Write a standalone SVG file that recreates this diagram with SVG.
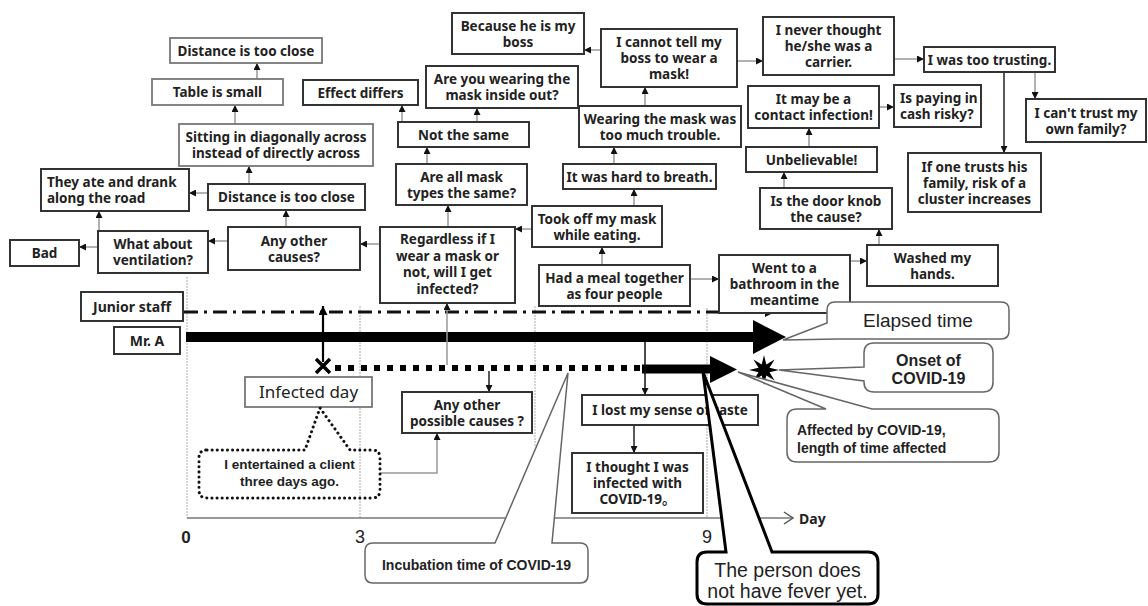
<svg xmlns="http://www.w3.org/2000/svg" width="1148" height="606" viewBox="0 0 1148 606">
<defs>
<marker id="ah" viewBox="0 0 8 8" refX="8" refY="4" markerWidth="7" markerHeight="7" markerUnits="userSpaceOnUse" orient="auto"><path d="M0,0L8,4L0,8Z" fill="#111"/></marker>
<marker id="ahb" viewBox="0 0 8 8" refX="8" refY="4" markerWidth="9" markerHeight="9" markerUnits="userSpaceOnUse" orient="auto"><path d="M0,0L8,4L0,8Z" fill="#000"/></marker>
</defs>
<style>
.box rect{fill:#fff;stroke:#333;stroke-width:2}
.gbox rect{fill:#fff;stroke:#777;stroke-width:1.8}
.t{font-family:"Noto Sans","Noto Sans CJK JP",sans-serif;font-weight:bold;font-size:13.5px;fill:#222;text-anchor:middle}
.tl{text-anchor:start}
.c{stroke:#999;stroke-width:1.5;fill:none;marker-end:url(#ah)}
.cb{stroke:#222;stroke-width:1.5;fill:none;marker-end:url(#ah)}
.grid{stroke:#aaa;stroke-width:1;stroke-dasharray:2 1;fill:none}
.call{fill:#fff;stroke:#666;stroke-width:1.5}
.a{font-family:"Liberation Sans",Arial,sans-serif;fill:#222}
</style>
<rect width="1148" height="606" fill="#fff"/>

<g id="grid">
<line class="grid" x1="187" y1="277" x2="187" y2="518"/>
<line class="grid" x1="360" y1="306" x2="360" y2="518"/>
<line class="grid" x1="535" y1="306" x2="535" y2="446"/>
<line class="grid" x1="707" y1="308" x2="707" y2="518"/>
<line x1="187" y1="518" x2="792" y2="518" stroke="#777" stroke-width="1.5"/>
<path d="M784,512L793,518L784,524" fill="none" stroke="#555" stroke-width="1.5"/>
<text class="a" x="186" y="543" font-size="17" font-weight="bold" text-anchor="middle">0</text>
<text class="a" x="360" y="543" font-size="18" text-anchor="middle">3</text>
<text class="a" x="707" y="543" font-size="18" text-anchor="middle">9</text>
<text class="t tl" x="799" y="524" style="font-size:14px">Day</text>
</g>

<g id="timeline">
<line x1="184" y1="312" x2="766" y2="312" stroke="#111" stroke-width="3" stroke-dasharray="14 6 3 6"/>
<path d="M765,307L775,312L765,317Z" fill="#111"/>
<line x1="186" y1="337" x2="756" y2="337" stroke="#000" stroke-width="10"/>
<path d="M753,320L786,337L753,354Z" fill="#000"/>
<line x1="335" y1="368" x2="642" y2="368" stroke="#000" stroke-width="6" stroke-dasharray="6 7"/>
<line x1="642" y1="369" x2="712" y2="369" stroke="#000" stroke-width="9"/>
<path d="M710,356L737,369.5L710,383Z" fill="#000"/>
<path d="M316,359L330,373M330,359L316,373" stroke="#000" stroke-width="3.5"/>
<path d="M764,355L766.3,364.5L774.6,359.4L769.5,367.7L779,370L769.5,372.3L774.6,380.6L766.3,375.5L764,385L761.7,375.5L753.4,380.6L758.5,372.3L749,370L758.5,367.7L753.4,359.4L761.7,364.5Z" fill="#000"/>
</g>

<g id="connectors">
<line class="c" x1="257" y1="79" x2="257" y2="63"/>
<line class="c" x1="235" y1="124" x2="235" y2="105"/>
<line class="c" x1="249" y1="184" x2="249" y2="166"/>
<line class="c" x1="208" y1="193" x2="189" y2="193"/>
<line class="c" x1="99" y1="231" x2="99" y2="211"/>
<line class="c" x1="98" y1="247" x2="79" y2="247"/>
<line class="c" x1="228" y1="241" x2="208" y2="241"/>
<line class="c" x1="286" y1="227" x2="286" y2="210"/>
<line class="c" x1="380" y1="244" x2="360" y2="244"/>
<line class="c" x1="448" y1="227" x2="448" y2="205"/>
<line class="c" x1="427" y1="164" x2="427" y2="147"/>
<line class="c" x1="402" y1="122" x2="402" y2="105"/>
<line class="c" x1="477" y1="122" x2="477" y2="108"/>
<line class="c" x1="532" y1="229" x2="515" y2="229"/>
<line class="c" x1="602" y1="265" x2="602" y2="247"/>
<line class="c" x1="634" y1="206" x2="634" y2="189"/>
<line class="c" x1="614" y1="164" x2="614" y2="147"/>
<line class="c" x1="645" y1="106" x2="645" y2="87"/>
<line class="c" x1="601" y1="50" x2="584" y2="50"/>
<line class="c" x1="737" y1="61" x2="763" y2="61"/>
<line class="c" x1="894" y1="59" x2="924" y2="59"/>
<line class="cb" x1="1004" y1="72" x2="1004" y2="153"/>
<line class="c" x1="1035" y1="72" x2="1035" y2="99"/>
<line class="c" x1="690" y1="279" x2="719" y2="279"/>
<line class="c" x1="850" y1="261" x2="867" y2="261"/>
<line class="c" x1="879" y1="245" x2="879" y2="229"/>
<line class="c" x1="784" y1="188" x2="784" y2="172"/>
<line class="c" x1="809" y1="147" x2="809" y2="128"/>
<line class="c" x1="879" y1="107" x2="894" y2="107"/>
<line class="c" x1="447" y1="365" x2="447" y2="303"/>
<line class="cb" x1="489" y1="371" x2="489" y2="392"/>
<path class="c" d="M380,473L437,473L437,433"/>
<line x1="645" y1="342" x2="645" y2="395" stroke="#111" stroke-width="1.5" marker-end="url(#ah)"/>
<line class="cb" x1="634" y1="425" x2="634" y2="453"/>
<line x1="323" y1="362" x2="323" y2="306" stroke="#000" stroke-width="2.2" marker-end="url(#ahb)"/>
</g>

<g id="n-distance-top" class="gbox"><rect x="170" y="38" width="152" height="25"/><text class="t" x="246" y="55.5">Distance is too close</text></g>
<g id="n-table" class="gbox"><rect x="152" y="79" width="131" height="26"/><text class="t" x="217.5" y="97">Table is small</text></g>
<g id="n-sitting" class="gbox"><rect x="179" y="124" width="194" height="42"/><text class="t" x="276"><tspan x="276" y="142">Sitting in diagonally across</tspan><tspan x="276" y="158">instead of directly across</tspan></text></g>
<g id="n-road" class="box"><rect x="41" y="169" width="148" height="42"/><text class="t tl"><tspan x="47" y="186.5">They ate and drank</tspan><tspan x="47" y="202.5">along the road</tspan></text></g>
<g id="n-distance-mid" class="box"><rect x="208" y="184" width="157" height="26"/><text class="t" x="286.5" y="202">Distance is too close</text></g>
<g id="n-bad" class="box"><rect x="10" y="240" width="69" height="26"/><text class="t" x="44.5" y="258">Bad</text></g>
<g id="n-ventilation" class="box"><rect x="98" y="231" width="110" height="42"/><text class="t"><tspan x="153" y="249">What about</tspan><tspan x="153" y="265">ventilation?</tspan></text></g>
<g id="n-any-other" class="box"><rect x="228" y="227" width="132" height="43"/><text class="t"><tspan x="294" y="245.5">Any other</tspan><tspan x="294" y="261.5">causes?</tspan></text></g>
<g id="n-regardless" class="box"><rect x="380" y="227" width="135" height="76"/><text class="t"><tspan x="447.5" y="244">Regardless if I</tspan><tspan x="447.5" y="260.5">wear a mask or</tspan><tspan x="447.5" y="277">not, will I get</tspan><tspan x="447.5" y="293.5">infected?</tspan></text></g>
<g id="n-mask-types" class="box"><rect x="396" y="164" width="131" height="41"/><text class="t"><tspan x="461.5" y="181.5">Are all mask</tspan><tspan x="461.5" y="197.5">types the same?</tspan></text></g>
<g id="n-not-same" class="box"><rect x="398" y="122" width="131" height="25"/><text class="t" x="463.5" y="139.5">Not the same</text></g>
<g id="n-effect" class="box"><rect x="303" y="80" width="115" height="25"/><text class="t" x="360.5" y="97.5">Effect differs</text></g>
<g id="n-inside-out" class="box"><rect x="426" y="66" width="152" height="42"/><text class="t"><tspan x="502" y="84">Are you wearing the</tspan><tspan x="502" y="100">mask inside out?</tspan></text></g>
<g id="n-boss" class="box"><rect x="452" y="13" width="132" height="41"/><text class="t"><tspan x="518" y="30.5">Because he is my</tspan><tspan x="518" y="46.5">boss</tspan></text></g>
<g id="n-cannot-tell" class="box"><rect x="601" y="29" width="136" height="58"/><text class="t"><tspan x="669" y="47">I cannot tell my</tspan><tspan x="669" y="63">boss to wear a</tspan><tspan x="669" y="79">mask!</tspan></text></g>
<g id="n-trouble" class="box"><rect x="579" y="106" width="162" height="41"/><text class="t"><tspan x="660" y="123.5">Wearing the mask was</tspan><tspan x="660" y="139.5">too much trouble.</tspan></text></g>
<g id="n-breath" class="box"><rect x="563" y="164" width="153" height="25"/><text class="t" x="639.5" y="181.5">It was hard to breath.</text></g>
<g id="n-took-off" class="box"><rect x="532" y="206" width="130" height="41"/><text class="t"><tspan x="597" y="223.5">Took off my mask</tspan><tspan x="597" y="239.5">while eating.</tspan></text></g>
<g id="n-meal" class="box"><rect x="539" y="265" width="151" height="41"/><text class="t"><tspan x="614.5" y="282.5">Had a meal together</tspan><tspan x="614.5" y="298.5">as four people</tspan></text></g>
<g id="n-bathroom" class="box"><rect x="719" y="255" width="131" height="58"/><text class="t"><tspan x="784.5" y="273">Went to a</tspan><tspan x="784.5" y="289">bathroom in the</tspan><tspan x="784.5" y="305">meantime</tspan></text></g>
<g id="n-washed" class="box"><rect x="867" y="245" width="131" height="41"/><text class="t"><tspan x="932.5" y="262.5">Washed my</tspan><tspan x="932.5" y="278.5">hands.</tspan></text></g>
<g id="n-door" class="box"><rect x="760" y="188" width="132" height="41"/><text class="t"><tspan x="826" y="205.5">Is the door knob</tspan><tspan x="826" y="221.5">the cause?</tspan></text></g>
<g id="n-unbelievable" class="box"><rect x="746" y="147" width="131" height="25"/><text class="t" x="811.5" y="164.5">Unbelievable!</text></g>
<g id="n-contact" class="box"><rect x="748" y="86" width="131" height="42"/><text class="t"><tspan x="813.5" y="104">It may be a</tspan><tspan x="813.5" y="120">contact infection!</tspan></text></g>
<g id="n-cash" class="box"><rect x="894" y="85" width="87" height="42"/><text class="t tl"><tspan x="900" y="103">Is paying in</tspan><tspan x="900" y="119">cash risky?</tspan></text></g>
<g id="n-carrier" class="box"><rect x="763" y="17" width="131" height="58"/><text class="t"><tspan x="828.5" y="35">I never thought</tspan><tspan x="828.5" y="51">he/she was a</tspan><tspan x="828.5" y="67">carrier.</tspan></text></g>
<g id="n-trusting" class="box"><rect x="924" y="47" width="131" height="25"/><text class="t" x="989.5" y="64.5">I was too trusting.</text></g>
<g id="n-family" class="box"><rect x="1026" y="99" width="120" height="43"/><text class="t"><tspan x="1086" y="117.5">I can't trust my</tspan><tspan x="1086" y="133.5">own family?</tspan></text></g>
<g id="n-cluster" class="box"><rect x="908" y="153" width="133" height="59"/><text class="t"><tspan x="974.5" y="171.5">If one trusts his</tspan><tspan x="974.5" y="187.5">family, risk of a</tspan><tspan x="974.5" y="203.5">cluster increases</tspan></text></g>
<g id="n-junior" class="box"><rect x="81" y="292" width="102" height="29"/><text class="t" x="132" y="311.5" style="font-size:14px">Junior staff</text></g>
<g id="n-mr-a" class="box"><rect x="114" y="327" width="66" height="27"/><text class="t" x="147" y="345.5" style="font-size:14px">Mr. A</text></g>
<g id="n-infected-day" class="gbox"><rect x="245" y="377" width="127" height="30"/><text class="t" x="308.5" y="398" style="font-size:17px;font-weight:normal">Infected day</text></g>
<g id="n-possible" class="box"><rect x="402" y="392" width="130" height="41"/><text class="t"><tspan x="467" y="409.5">Any other</tspan><tspan x="467" y="425.5">possible causes ?</tspan></text></g>
<g id="n-taste" class="box"><rect x="582" y="395" width="176" height="30"/><text class="t" x="670" y="415">I lost my sense of taste</text></g>
<g id="n-thought" class="box"><rect x="572" y="453" width="131" height="60"/><text class="t"><tspan x="637.5" y="472">I thought I was</tspan><tspan x="637.5" y="488">infected with</tspan><tspan x="637.5" y="504">COVID-19。</tspan></text></g>
<g id="n-client">
<path d="M207,450L305,450L320,408L350,450L372,450Q380,450 380,458L380,490Q380,498 372,498L207,498Q199,498 199,490L199,458Q199,450 207,450Z" fill="none" stroke="#111" stroke-width="3" stroke-linecap="round" stroke-dasharray="0.1 5"/>
<text class="a" font-size="13.5" font-weight="bold" text-anchor="middle"><tspan x="289.5" y="469">I entertained a client</tspan><tspan x="289.5" y="486">three days ago.</tspan></text>
</g>

<g id="n-elapsed">
<path class="call" d="M835,302L1001,302Q1009,302 1009,310L1009,331Q1009,339 1001,339L838,339L783,340L827,323L827,310Q827,302 835,302Z"/>
<text class="a" x="918" y="327" font-size="19" text-anchor="middle" fill="#333">Elapsed time</text>
</g>
<g id="n-onset">
<path class="call" d="M874,343L983,343Q993,343 993,353L993,382Q993,392 983,392L874,392Q864,392 864,382L864,381L779,370L864,367L864,353Q864,343 874,343Z"/>
<text class="a" font-size="16" font-weight="bold" text-anchor="middle"><tspan x="928.5" y="366">Onset of</tspan><tspan x="928.5" y="384">COVID-19</tspan></text>
</g>
<g id="n-affected">
<path class="call" d="M797,409L826,409L738,372L872,409L989,409Q999,409 999,419L999,452Q999,462 989,462L797,462Q787,462 787,452L787,419Q787,409 797,409Z"/>
<text class="a" font-size="14" font-weight="bold"><tspan x="797" y="435">Affected by COVID-19,</tspan><tspan x="797" y="453">length of time affected</tspan></text>
</g>
<g id="n-incubation">
<path class="call" d="M373,543L495,543L568,373L552,543L580,543Q588,543 588,551L588,575Q588,583 580,583L373,583Q365,583 365,575L365,551Q365,543 373,543Z"/>
<text class="a" x="476.5" y="570" font-size="14" font-weight="bold" text-anchor="middle">Incubation time of COVID-19</text>
</g>
<g id="n-fever">
<path d="M707,552L726,552L703,372L772,552L868,552Q878,552 878,562L878,594Q878,604 868,604L707,604Q697,604 697,594L697,562Q697,552 707,552Z" fill="#fff" stroke="#000" stroke-width="3" stroke-linejoin="miter"/>
<text class="a" font-size="19.5" text-anchor="middle"><tspan x="787.5" y="577">The person does</tspan><tspan x="787.5" y="598">not have fever yet.</tspan></text>
</g>
</svg>
